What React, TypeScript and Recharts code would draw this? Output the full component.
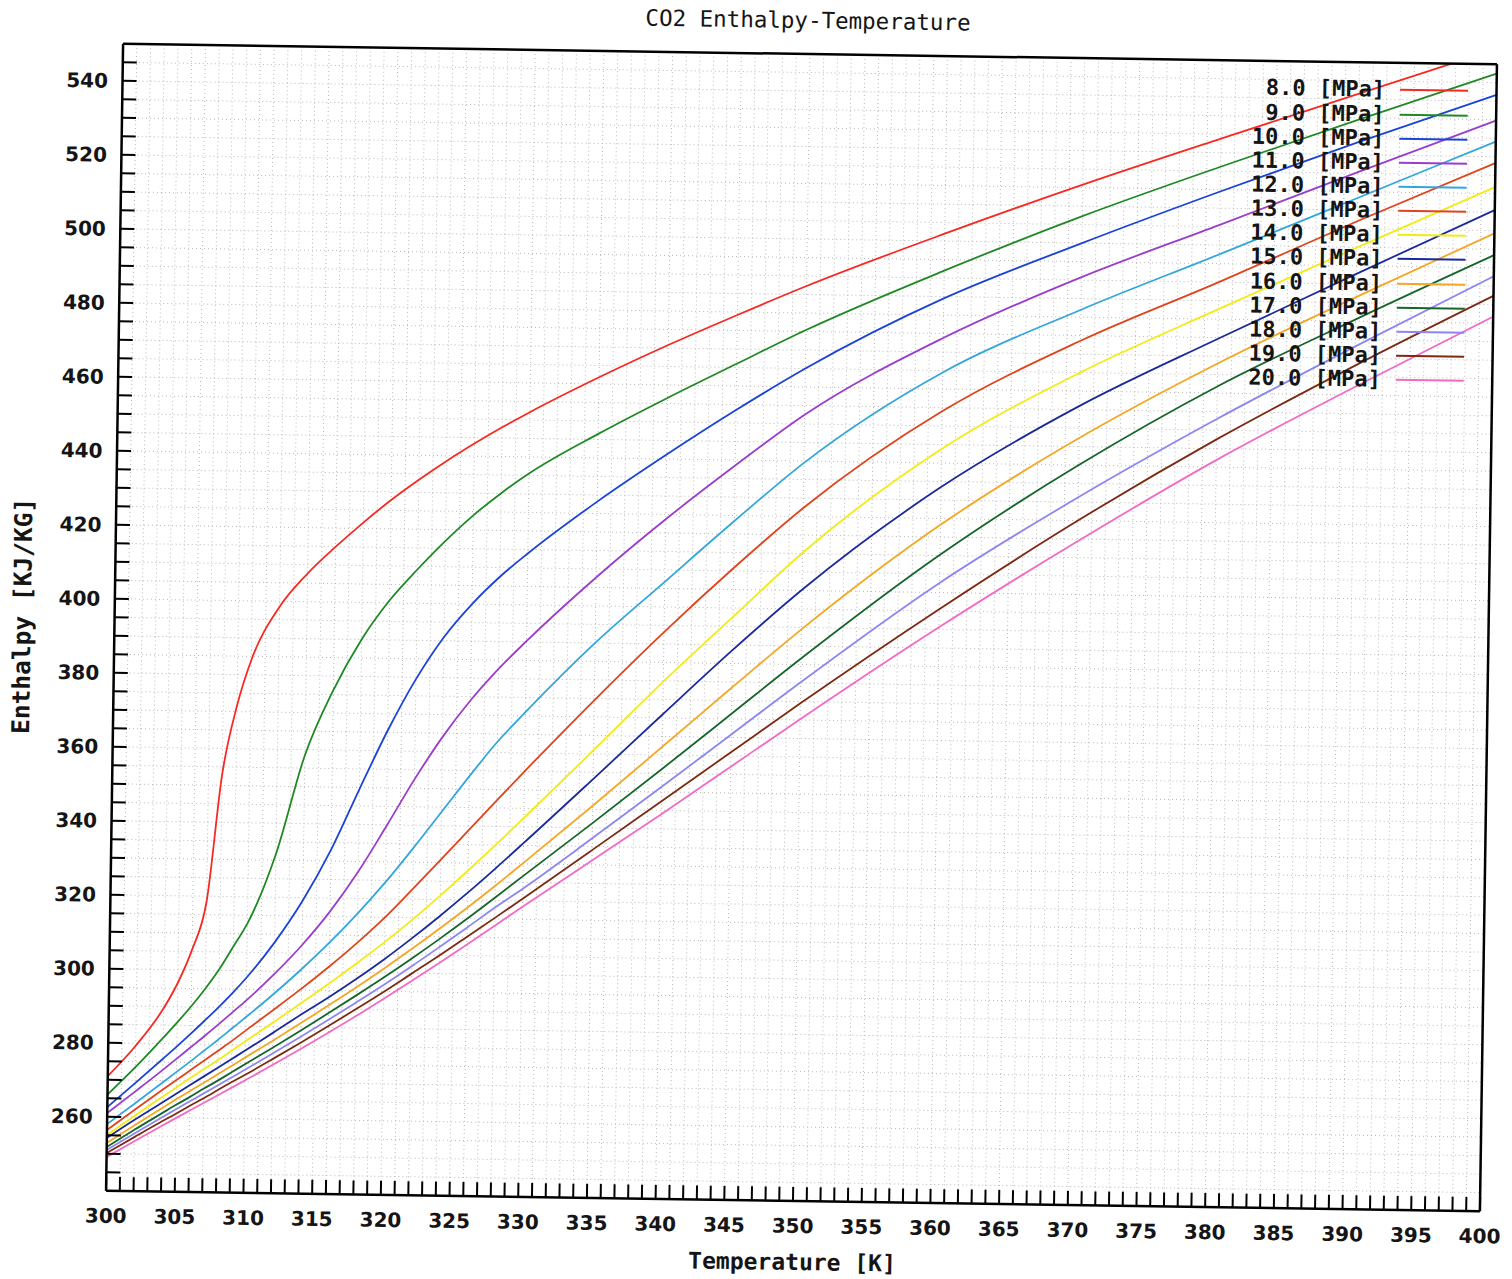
import { LineChart, Line, XAxis, YAxis, CartesianGrid, Legend } from "recharts"

// temperature samples [K]
const temps = [300, 302, 304, 305, 306, 307, 308, 309, 310, 312, 314, 316, 318, 320, 322, 324, 326, 328, 330, 335, 340, 345, 350, 360, 370, 380, 390, 400]

// enthalpy [kJ/kg] per isobar, one value per temperature above
const h8 = [271, 279.3, 289.6, 296.5, 305.5, 318.5, 353, 371.5, 384, 398.5, 407.6, 414.9, 421.6, 427.8, 433.4, 438.6, 443.4, 447.9, 452.1, 461.8, 470.8, 479.2, 487.3, 502, 515.8, 528.8, 541.5, 554.2]
const h9 = [266, 273.5, 281.6, 285.8, 290.2, 295, 300.3, 306.5, 312.8, 331.7, 358.5, 376.2, 390, 400.7, 409.2, 417, 424, 430.1, 435.5, 446.5, 456.5, 466, 475.4, 492, 507.3, 521.2, 534.5, 547.5]
const h10 = [262.6, 269.2, 275.9, 279.3, 282.8, 286.4, 290.1, 294, 298.2, 307.8, 319.2, 333, 349.5, 365.5, 379.5, 391, 400, 407.5, 413.9, 428.2, 441.2, 453.5, 465, 484.5, 500, 514.5, 528.4, 541.7]
const h11 = [261, 266.9, 272.9, 276, 279.1, 282.2, 285.4, 288.7, 292, 299.2, 307.2, 316.4, 327.2, 339.6, 352.4, 364, 374, 382.6, 390.2, 407.7, 423.7, 438.5, 452.5, 473.8, 490.8, 505.5, 520.3, 534.8]
const h12 = [258, 263.7, 269.5, 272.4, 275.3, 278.3, 281.3, 284.4, 287.5, 293.9, 300.7, 308, 315.9, 324.5, 333.9, 343.7, 353.5, 362.9, 371, 390, 406.8, 423.5, 439.5, 464.5, 482, 497.5, 513.3, 529.1]
const h13 = [256.4, 262, 267.5, 270.2, 272.9, 275.6, 278.3, 281, 283.9, 289.6, 295.4, 301.5, 308, 315, 322.8, 330.8, 338.9, 347, 355, 374.5, 393.2, 410.8, 427.3, 454, 473.6, 490, 507, 523.3]
const h14 = [255.1, 260.4, 265.6, 268.2, 270.8, 273.3, 275.8, 278.4, 281, 286.2, 291.5, 296.9, 302.5, 308.3, 314.5, 321.1, 328, 335.1, 342.4, 361, 379.8, 397.6, 415.2, 443.8, 465, 482.7, 499.9, 516.8]
const h15 = [254.3, 259.3, 264.1, 266.5, 268.9, 271.3, 273.7, 276.1, 278.5, 283.4, 288.4, 293.2, 298.3, 303.7, 309.5, 315.6, 322, 328.7, 335.6, 353.2, 371, 388.6, 405.2, 433.5, 456, 474.7, 492.8, 510.6]
const h16 = [252.9, 257.8, 262.6, 265, 267.3, 269.6, 271.9, 274.2, 276.6, 281.3, 286.1, 291, 296, 301.2, 306.6, 312.2, 318, 324, 330.2, 346, 362.2, 378.5, 394.5, 423.3, 447.3, 468, 486.5, 504.3]
const h17 = [251.8, 256.6, 261.2, 263.5, 265.7, 268, 270.2, 272.5, 274.8, 279.4, 284.1, 288.9, 293.8, 298.8, 304, 309.4, 315, 320.8, 326.7, 341.3, 356.2, 371.4, 386.6, 415.2, 440, 461.8, 480.5, 498.4]
const h18 = [251, 255.6, 260.1, 262.3, 264.5, 266.7, 268.9, 271.1, 273.3, 277.8, 282.4, 287.1, 291.9, 296.8, 301.9, 307.2, 312.6, 318.1, 323.3, 337.2, 351.4, 365.8, 380.2, 407.6, 431.3, 453, 473.2, 492.7]
const h19 = [250.2, 254.6, 259, 261.1, 263.3, 265.4, 267.6, 269.8, 271.9, 276.3, 280.8, 285.4, 290.1, 294.9, 299.9, 304.9, 310.1, 315.3, 320.6, 334, 347.5, 361, 374.5, 400.5, 425, 447.5, 468, 487.4]
const h20 = [249.1, 253.5, 257.8, 259.9, 262, 264.1, 266.2, 268.3, 270.4, 274.7, 279.1, 283.6, 288.2, 293, 297.9, 302.9, 308, 313.2, 318.4, 331.2, 344, 357.1, 370.2, 395.6, 419.4, 441.9, 462.2, 481.8]

const enthalpy = [h8, h9, h10, h11, h12, h13, h14, h15, h16, h17, h18, h19, h20]
const pressures = [8, 9, 10, 11, 12, 13, 14, 15, 16, 17, 18, 19, 20]
const lineColors = [
  "#f52a22", "#1f8a25", "#1a44d6", "#9a3ccc", "#33a6dc", "#e0441c", "#f2ec12",
  "#1a2a9c", "#f5a623", "#16662a", "#8c86f2", "#7c2a12", "#f26ac4",
]

// labelled ticks
const xLabels = [300, 305, 310, 315, 320, 325, 330, 335, 340, 345, 350, 355, 360, 365, 370, 375, 380, 385, 390, 395, 400]
const yLabels = [260, 280, 300, 320, 340, 360, 380, 400, 420, 440, 460, 480, 500, 520, 540]
// minor tick marks (every 1 K / every 5 kJ/kg)
const xMinor = Array.from({ length: 101 }, (_, i) => 300 + i)
const yMinor = Array.from({ length: 61 }, (_, i) => 245 + i * 5)

const rows = temps.map((t, i) => {
  const row: Record<string, number> = { T: t }
  enthalpy.forEach((arr, k) => {
    row[`p${k}`] = arr[i]
  })
  return row
})

const tickFont = { fontFamily: "'DejaVu Sans', sans-serif", fontWeight: 700, fontSize: 20, fill: "#151515" }
const monoFont = "'DejaVu Sans Mono', monospace"

const XTick = (props: any) => {
  const { x, y, payload } = props
  if (!xLabels.includes(payload.value)) return <g />
  return (
    <text x={x} y={y} textAnchor="middle" dominantBaseline="central" {...tickFont}>
      {payload.value}
    </text>
  )
}

const YTick = (props: any) => {
  const { x, y, payload } = props
  if (!yLabels.includes(payload.value)) return <g />
  return (
    <text x={x} y={y} textAnchor="end" dominantBaseline="central" {...tickFont}>
      {payload.value}
    </text>
  )
}

function PressureLegend() {
  return (
    <div>
      {pressures.map((p, k) => (
        <div key={p} style={{ display: "flex", alignItems: "center", height: 24.15 }}>
          <span
            style={{
              width: 277,
              textAlign: "right",
              fontFamily: monoFont,
              fontWeight: 700,
              fontSize: 22,
              lineHeight: "24px",
              color: "#151515",
              whiteSpace: "pre",
            }}
          >
            {`${p.toFixed(1)} [MPa]`}
          </span>
          <span style={{ marginLeft: 15, width: 68, borderTop: `2px solid ${lineColors[k]}` }} />
        </div>
      ))}
    </div>
  )
}

export default function App() {
  return (
    <div style={{ position: "absolute", left: 0, top: 0, width: 1512, height: 1279, background: "#fff", overflow: "hidden" }}>
      <div
        style={{
          position: "absolute",
          left: 0,
          top: 0,
          width: 1512,
          height: 1279,
          transform: "rotate(0.85deg)",
          transformOrigin: "801.5px 627.6px",
        }}
      >
        <div
          style={{
            position: "absolute",
            left: 499,
            top: 6,
            width: 600,
            textAlign: "center",
            fontFamily: monoFont,
            fontSize: 22.5,
            lineHeight: "28px",
            color: "#151515",
            zIndex: 2,
          }}
        >
          CO2 Enthalpy-Temperature
        </div>
        <LineChart width={1512} height={1279} data={rows} margin={{ top: 53, right: 22.5, bottom: 0, left: 0 }}>
          <CartesianGrid stroke="#bcb6b6" strokeDasharray="1 3" />
          <XAxis
            dataKey="T"
            type="number"
            domain={[300, 400]}
            allowDataOverflow
            ticks={xMinor}
            interval={0}
            height={78}
            tickSize={-14}
            tickMargin={39}
            tick={XTick}
            stroke="#000"
            axisLine={{ strokeWidth: 2.5 }}
            tickLine={{ strokeWidth: 2 }}
            label={{
              value: "Temperature [K]",
              position: "insideBottom",
              offset: 9,
              fill: "#151515",
              fontSize: 23,
              fontWeight: 700,
              fontFamily: monoFont,
            }}
          />
          <XAxis
            xAxisId="top"
            orientation="top"
            type="number"
            domain={[300, 400]}
            allowDataOverflow
            ticks={xMinor}
            interval={0}
            height={1}
            tickSize={-14}
            tick={false}
            stroke="#000"
            axisLine={{ strokeWidth: 2.5 }}
            tickLine={{ strokeWidth: 2 }}
          />
          <YAxis
            type="number"
            domain={[240, 550]}
            allowDataOverflow
            ticks={yMinor}
            interval={0}
            width={114.5}
            tickSize={-14}
            tickMargin={28.5}
            tick={YTick}
            stroke="#000"
            axisLine={{ strokeWidth: 2.5 }}
            tickLine={{ strokeWidth: 2 }}
            label={{
              value: "Enthalpy [KJ/KG]",
              angle: -90,
              position: "insideLeft",
              offset: 22,
              fill: "#151515",
              fontSize: 24.5,
              fontWeight: 700,
              fontFamily: monoFont,
              style: { textAnchor: "middle" },
            }}
          />
          <YAxis
            yAxisId="right"
            orientation="right"
            type="number"
            domain={[240, 550]}
            allowDataOverflow
            ticks={yMinor}
            interval={0}
            width={1}
            tickSize={-14}
            tick={false}
            stroke="#000"
            axisLine={{ strokeWidth: 2.5 }}
            tickLine={{ strokeWidth: 2 }}
          />
          <Legend
            layout="vertical"
            align="center"
            verticalAlign="middle"
            wrapperStyle={{ left: 1100, top: 69.4, width: 370 }}
            content={() => <PressureLegend />}
          />
          {pressures.map((p, k) => (
            <Line
              key={p}
              type="monotone"
              dataKey={`p${k}`}
              name={`${p.toFixed(1)} [MPa]`}
              stroke={lineColors[k]}
              strokeWidth={1.8}
              dot={false}
              activeDot={false}
              isAnimationActive={false}
            />
          ))}
        </LineChart>
      </div>
    </div>
  )
}
